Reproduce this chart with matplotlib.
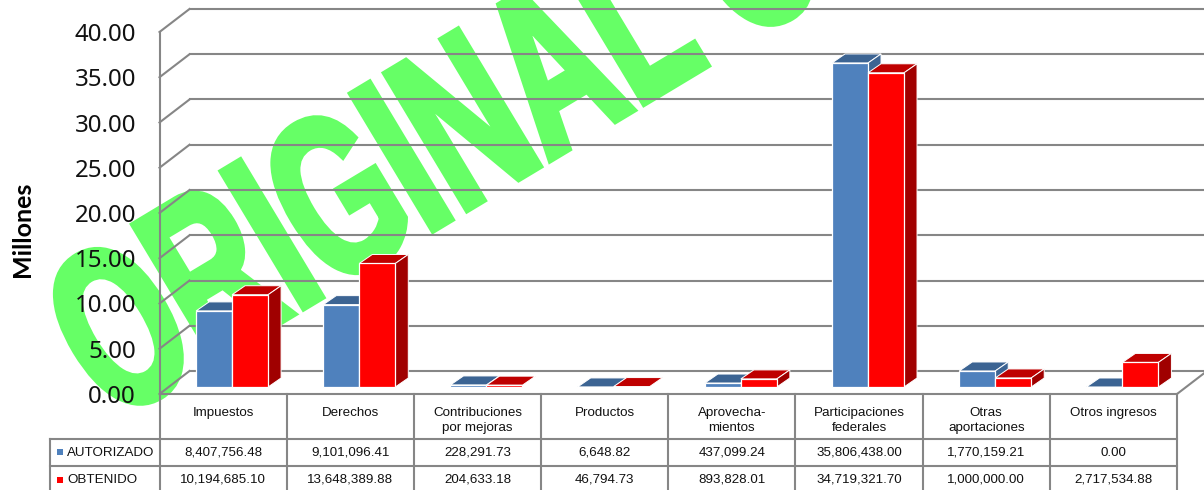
import matplotlib
matplotlib.use('Agg')
import matplotlib.pyplot as plt
import numpy as np
from matplotlib.patheffects import AbstractPathEffect
from matplotlib.transforms import Affine2D

# the table rows and the bars come from the same numbers
categories = ['Impuestos', 'Derechos', 'Contribuciones\npor mejoras',
              'Productos', 'Aprovecha-\nmientos', 'Participaciones\nfederales',
              'Otras\naportaciones', 'Otros ingresos']
autorizado = [8407756.48, 9101096.41, 228291.73, 6648.82,
              437099.24, 35806438.00, 1770159.21, 0.00]
obtenido = [10194685.10, 13648389.88, 204633.18, 46794.73,
            893828.01, 34719321.70, 1000000.00, 2717534.88]
y_ticks = [0, 5, 10, 15, 20, 25, 30, 35, 40]
series_names = ['AUTORIZADO', 'OBTENIDO']

W, H = 1204, 490
GRAY = '#868686'
BLUE = ('#4F81BD', '#3C6493', '#3C6493')  # front, top, side
RED = ('#FF0000', '#BF0000', '#A00000')

# plot area in pixels
LEFT, RIGHT, TOP, BOTTOM = 159.5, 1177, 32, 394
px_x = 8 / (RIGHT - LEFT)  # categories per pixel
px_y = 40 / (BOTTOM - TOP)  # millions per pixel


class CondensedBold(AbstractPathEffect):
    # squeezes the glyphs sideways and fattens them, the watermark font is
    # a lot narrower and heavier than anything installed
    def __init__(self, squeeze, stroke):
        super().__init__()
        self.squeeze = squeeze
        self.stroke = stroke

    def draw_path(self, renderer, gc, tpath, affine, rgbFace=None):
        gc0 = renderer.new_gc()
        gc0.copy_properties(gc)
        gc0.set_linewidth(self.stroke)
        gc0.set_foreground(rgbFace)
        gc0.set_joinstyle('miter')
        renderer.draw_path(gc0, tpath, Affine2D().scale(self.squeeze, 1) + affine,
                           rgbFace)
        gc0.restore()


fig = plt.figure(figsize=(W / 100, H / 100), dpi=100)
fig.patch.set_facecolor('white')

fig.text(112 / W, 1 - 423 / H, 'ORIGINAL C', color='#66FF66', fontsize=166,
         family='Liberation Sans', weight='bold', rotation=31,
         rotation_mode='anchor', ha='left', va='baseline', zorder=-1,
         path_effects=[CondensedBold(0.62, 5)])

ax = fig.add_axes([LEFT / W, 1 - BOTTOM / H, (RIGHT - LEFT) / W,
                   (BOTTOM - TOP) / H])
ax.patch.set_visible(False)
ax.set_xlim(0, 8)
ax.set_ylim(0, 40)
ax.set_xticks([])
ax.set_yticks(y_ticks, ['%.2f' % t for t in y_ticks], family='Noto Sans',
              fontsize=17.3, color='#111111')
ax.tick_params(axis='y', length=0, pad=17)
for name, spine in ax.spines.items():
    spine.set_visible(name in ('left', 'bottom'))
    spine.set_color(GRAY)
    spine.set_linewidth(1.5)
ax.set_ylabel('Millones', family='Lato', weight='bold', fontsize=18,
              color='black')
ax.yaxis.set_label_coords(-125 / (RIGHT - LEFT), 0.455)

# back wall grid and floor edge
wall_dx, wall_dy = 30 * px_x, 23 * px_y
for t in y_ticks:
    ax.plot([0, wall_dx], [t, t + wall_dy], color=GRAY, lw=1.5, clip_on=False,
            zorder=1)
    ax.plot([wall_dx, 8 + wall_dx], [t + wall_dy, t + wall_dy], color=GRAY,
            lw=1.5, clip_on=False, zorder=1)
ax.plot([8, 8 + wall_dx], [0, wall_dy], color=GRAY, lw=1.5, clip_on=False,
        zorder=1)

# fake 3d bars
floor_dx, floor_dy = 9 * px_x, 7 * px_y
depth_dx, depth_dy = 13 * px_x, 9 * px_y
bar_w = 36 * px_x


def draw_bar(x0, value, colors, z):
    x1 = x0 + bar_w
    y0 = floor_dy
    y1 = floor_dy + value
    ax.bar(x0, value, bar_w, bottom=y0, align='edge', color=colors[0],
           edgecolor='white', lw=0.9, zorder=z + 0.2, clip_on=False)
    ax.fill([x0, x0 + depth_dx, x1 + depth_dx, x1],
            [y1, y1 + depth_dy, y1 + depth_dy, y1], color=colors[1],
            ec='white', lw=0.7, zorder=z, clip_on=False)
    if value > 0.3:  # the tiny ones only show their top
        ax.fill([x1, x1 + depth_dx, x1 + depth_dx, x1],
                [y0, y0 + depth_dy, y1 + depth_dy, y1], color=colors[2],
                ec='white', lw=0.7, zorder=z, clip_on=False)


for i in range(len(categories)):
    center = i + 0.5 + floor_dx
    draw_bar(center - bar_w, autorizado[i] / 1e6, BLUE, 3 + i)
    draw_bar(center, obtenido[i] / 1e6, RED, 3.5 + i)

# data table underneath, pixel coordinates
tb = fig.add_axes([0, 0, 1, 1 - BOTTOM / H])
tb.axis('off')
tb.set_xlim(0, W)
tb.set_ylim(H, BOTTOM)
col_w = (RIGHT - LEFT) / 8
col_x = LEFT + col_w * np.arange(9)
ROW1, ROW2 = 439, 466
for x in col_x:
    tb.plot([x, x], [BOTTOM, H], color=GRAY, lw=1.5, clip_on=False)
tb.plot([50, 50], [ROW1, H], color=GRAY, lw=1.5, clip_on=False)
for y in (ROW1, ROW2):
    tb.plot([50, RIGHT], [y, y], color=GRAY, lw=1.5, clip_on=False)

TEXT_STYLE = dict(family='Liberation Sans', fontsize=9.6, color='#111111',
                  ha='center')
for i, cat in enumerate(categories):
    cx = col_x[i] + col_w / 2
    tb.text(cx, 406.5, cat, va='top', linespacing=1.4, **TEXT_STYLE)
    tb.text(cx, 452.5, format(autorizado[i], ',.2f'), va='center', **TEXT_STYLE)
    tb.text(cx, 479.5, format(obtenido[i], ',.2f'), va='center', **TEXT_STYLE)

for name, y, c in zip(series_names, (452, 479.5), (BLUE[0], RED[0])):
    tb.fill([57, 63, 63, 57], [y - 3, y - 3, y + 3, y + 3], color=c, lw=0)
    tb.text(67, y + 0.5, name, family='Liberation Sans', fontsize=9.6,
            color='#111111', va='center')

fig.savefig('out.png', dpi=100)
